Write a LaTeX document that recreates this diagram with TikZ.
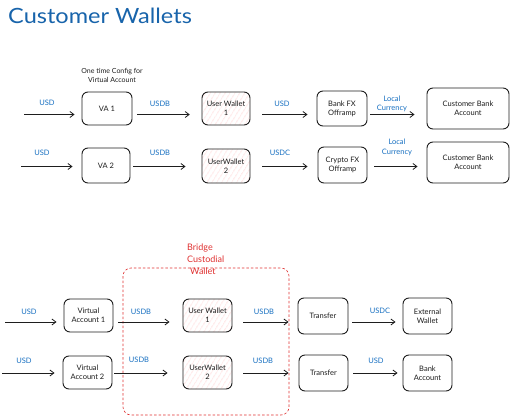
\documentclass[tikz,border=0pt]{standalone}
\usepackage{fontspec}
\setmainfont{Lato}
\usetikzlibrary{arrows.meta,patterns.meta}
\definecolor{ink}{HTML}{1E1E1E}
\definecolor{lblue}{HTML}{1971C2}
\definecolor{tblue}{HTML}{1864AB}
\definecolor{lred}{HTML}{E03131}
\definecolor{hatch}{HTML}{FFC4C4}
\tikzset{
  box/.style={draw=ink,line width=0.9pt,rounded corners=6pt,align=center,font=\fontsize{7.5}{9}\selectfont,text=ink,inner sep=1pt},
  wallet/.style={box,pattern={Lines[angle=58,distance=4pt,line width=0.5pt]},pattern color=hatch},
  flow/.style={draw=ink,line width=0.8pt,-{Straight Barb[length=4pt,width=6pt,line width=0.8pt]}},
  lbl/.style={text=lblue,font=\fontsize{7.5}{8}\selectfont,inner sep=0pt},
  note/.style={text=ink,font=\fontsize{7}{9}\selectfont,inner sep=0pt,align=center},
}
\begin{document}
\begin{tikzpicture}[x=1pt,y=-1pt]
\useasboundingbox (0,0) rectangle (512,418);
\fill[white] (0,0) rectangle (512,418);
% title
\node[anchor=west,text=tblue,font=\fontsize{21}{24}\selectfont,inner sep=0pt,xscale=1.12] (title) at (8,16) {Customer Wallets};
\node[note] (cfg) at (112,75) {One time Config for\\Virtual Account};
% row coordinates
\coordinate (r1) at (0,114.5);
\coordinate (r2) at (0,166.5);
\coordinate (r3) at (0,322);
\coordinate (r4) at (0,373);
% top boxes
\node[box,minimum width=50,minimum height=33] (va1) at (107,108.5) {VA 1};
\node[wallet,minimum width=48,minimum height=33] (uw1) at (226,108.5) {User Wallet\\1};
\node[box,minimum width=50,minimum height=35] (bank) at (342,108.5) {Bank FX\\Offramp};
\node[box,minimum width=82,minimum height=41] (cba1) at (468,108.5) {Customer Bank\\Account};
\node[box,minimum width=48,minimum height=35] (va2) at (106,165.5) {VA 2};
\node[wallet,minimum width=48,minimum height=34] (uw2) at (226,166) {UserWallet\\2};
\node[box,minimum width=49,minimum height=36] (crypto) at (342.5,165) {Crypto FX\\Offramp};
\node[box,minimum width=82,minimum height=41] (cba2) at (468,162.5) {Customer Bank\\Account};
% free starts
\coordinate (s1) at (24,114.5);
\coordinate (s2) at (21,166.5);
\coordinate (s3) at (5,322);
\coordinate (s4) at (2,373);
% top arrows
\draw[flow,shorten >=7] (s1) -- (va1.west |- r1);
\draw[flow,shorten <=5,shorten >=12] (va1.east |- r1) -- (uw1.west |- r1);
\draw[flow,shorten <=12,shorten >=9] (uw1.east |- r1) -- (bank.west |- r1);
\draw[flow,shorten <=3,shorten >=12] (bank.east |- r1) -- (cba1.west |- r1);
\draw[flow,shorten >=9] (s2) -- (va2.west |- r2);
\draw[flow,shorten <=3,shorten >=16] (va2.east |- r2) -- (uw2.west |- r2);
\draw[flow,shorten <=12,shorten >=10] (uw2.east |- r2) -- (crypto.west |- r2);
\draw[flow,shorten <=7,shorten >=9] (crypto.east |- r2) -- (cba2.west |- r2);
% top labels
\node[lbl] (l1) at (47,103) {USD};
\node[lbl] (l2) at (160,104) {USDB};
\node[lbl] (l3) at (282,104) {USD};
\node[lbl,align=center,font=\fontsize{7.5}{9.5}\selectfont] (l4) at (392,104) {Local\\Currency};
\node[lbl] (l5) at (42,153) {USD};
\node[lbl] (l6) at (160,153) {USDB};
\node[lbl] (l7) at (280,153) {USDC};
\node[lbl,align=center,font=\fontsize{7.5}{9.5}\selectfont] (l8) at (397,147.5) {Local\\Currency};
% bridge custodial region
\draw[lred,dashed,line width=0.6pt,rounded corners=8pt,dash pattern=on 2.5pt off 2pt] (123,268) rectangle (289,415);
\node[anchor=north west,text=lred,align=left,font=\fontsize{9}{11.8}\selectfont,inner sep=0pt] (bcw) at (187,244) {Bridge\\Custodial\\\hspace*{3pt}Wallet};
% bottom boxes
\node[box,minimum width=49,minimum height=33] (bva1) at (88.5,315.5) {Virtual\\Account 1};
\node[wallet,minimum width=49,minimum height=33] (buw1) at (207.5,315.5) {User Wallet\\1};
\node[box,minimum width=50,minimum height=36] (tr1) at (323,316) {Transfer};
\node[box,minimum width=49,minimum height=36] (ew) at (427.5,316) {External\\Wallet};
\node[box,minimum width=49,minimum height=33] (bva2) at (87.5,372.5) {Virtual\\Account 2};
\node[wallet,minimum width=49,minimum height=33] (buw2) at (207.5,372.5) {UserWallet\\2};
\node[box,minimum width=49,minimum height=36] (tr2) at (323.5,373) {Transfer};
\node[box,minimum width=49,minimum height=36] (ba) at (427.5,373) {Bank\\Account};
% bottom arrows
\draw[flow,shorten >=7] (s3) -- (bva1.west |- r3);
\draw[flow,shorten <=5,shorten >=13] (bva1.east |- r3) -- (buw1.west |- r3);
\draw[flow,shorten <=11,shorten >=9] (buw1.east |- r3) -- (tr1.west |- r3);
\draw[flow,shorten <=4,shorten >=7] (tr1.east |- r3) -- (ew.west |- r3);
\draw[flow,shorten >=8] (s4) -- (bva2.west |- r4);
\draw[flow,shorten <=2,shorten >=15] (bva2.east |- r4) -- (buw2.west |- r4);
\draw[flow,shorten <=11,shorten >=10] (buw2.east |- r4) -- (tr2.west |- r4);
\draw[flow,shorten <=5,shorten >=5] (tr2.east |- r4) -- (ba.west |- r4);
% bottom labels
\node[lbl] (m1) at (29,312) {USD};
\node[lbl] (m2) at (141,312) {USDB};
\node[lbl] (m3) at (264,312) {USDB};
\node[lbl] (m4) at (380,311) {USDC};
\node[lbl] (m5) at (24,361) {USD};
\node[lbl] (m6) at (139,360) {USDB};
\node[lbl] (m7) at (263,361) {USDB};
\node[lbl] (m8) at (376,361) {USD};
\end{tikzpicture}
\end{document}
